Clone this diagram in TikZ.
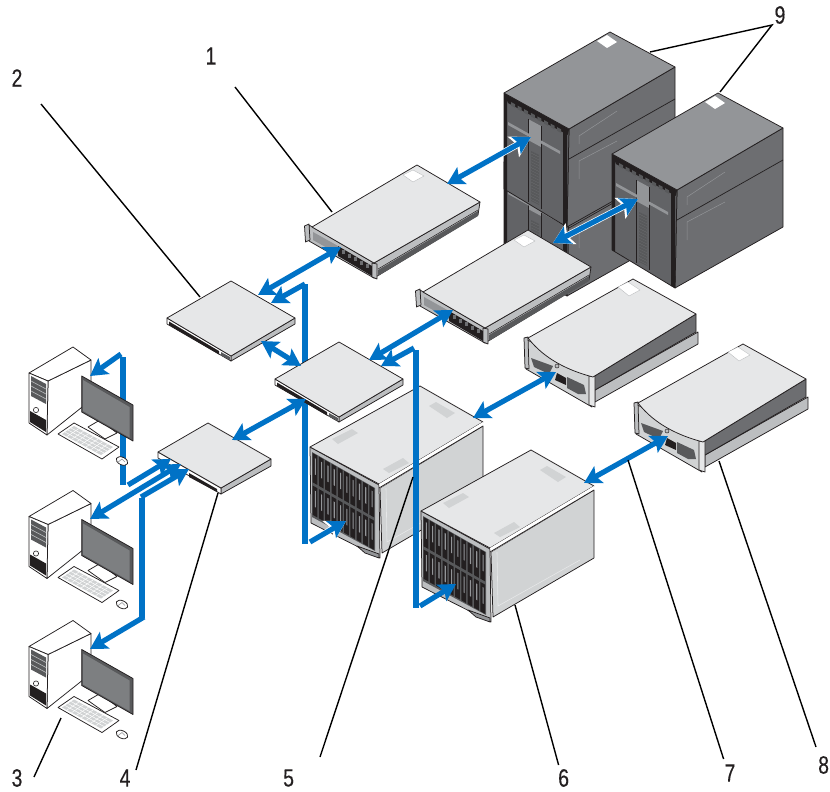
\documentclass[tikz,border=0pt]{standalone}
\usepackage{fontspec}
\usetikzlibrary{arrows.meta}
\newfontfamily\lblfont[FakeStretch=0.78,FakeBold=0.25]{Liberation Sans}
\definecolor{bluarrow}{HTML}{0072C6}
\definecolor{gA}{HTML}{E6E7E8}
\definecolor{gB}{HTML}{D1D3D4}
\definecolor{gC}{HTML}{BCBEC0}
\definecolor{gD}{HTML}{939598}
\definecolor{gE}{HTML}{6D6E71}
\definecolor{gF}{HTML}{58595B}
\definecolor{gG}{HTML}{231F20}
\tikzset{
  edge/.style={draw=gG,line width=0.75pt,line join=round},
  leader/.style={draw=black,line width=1.4pt},
  lab/.style={font=\lblfont\fontsize{25}{25}\selectfont,inner sep=0pt,text=gG},
  blu/.style={draw=bluarrow,line width=5.2pt},
  blutip/.style={blu,-{Stealth[length=17pt,width=19pt,inset=3.5pt]}},
  blutwo/.style={blu,{Stealth[length=17pt,width=19pt,inset=3.5pt]}-{Stealth[length=17pt,width=19pt,inset=3.5pt]}},
  halo/.style={draw=white,line width=6.6pt,-{Stealth[length=20pt,width=23pt,inset=4pt]}},
  halotwo/.style={draw=white,line width=6.6pt,{Stealth[length=20pt,width=23pt,inset=4pt]}-{Stealth[length=20pt,width=23pt,inset=4pt]}},
}
% 2U rack server, drawn at the place of item 1
\newcommand{\srvbox}[1]{\begin{scope}[shift={#1}]
  \fill[gC,edge] (374,263)--(480,202)--(478,215)--(374,278)--cycle;
  \fill[gF] (378,270)--(478,211)--(478,216)--(378,276)--cycle;
  \draw[gG,line width=.5pt] (378,269)--(478,210);
  \fill[gC,edge] (309,225)--(374,263)--(374,278)--(309,241)--cycle;
  \fill[gD] (313,232)--(338,246)--(338,254)--(313,240)--cycle;
  \fill[gG] (338,246)--(372,266)--(372,276)--(338,256)--cycle;
  \foreach \i in {0,...,4}{\fill[gE] ({342+6*\i},{250+3.5*\i}) rectangle ++(3,4);}
  \fill[gC,edge] (304.5,226)--(309,224)--(310,240)--(305.5,242)--cycle;
  \fill[gC,edge] (372,263)--(377,264)--(377,279)--(372,277)--cycle;
  \fill[gA,edge] (312,227)--(417,165)--(480,202)--(374,263)--cycle;
  \fill[white,draw=gC,line width=.4pt] (403,175)--(413,170)--(424,176)--(413,182)--cycle;
\end{scope}}
% flat switch, drawn at the place of item 2
\newcommand{\swbox}[1]{\begin{scope}[shift={#1}]
  \fill[gC,edge] (231,356)--(295,318)--(295,324)--(231,361)--cycle;
  \fill[white,edge] (167,318)--(231,356)--(231,361)--(167,324)--cycle;
  \fill[gG] (169,321.5)--(219,351)--(219,354.5)--(169,325)--cycle;
  \fill[gF] (221,352)--(230,357)--(230,360)--(221,355.5)--cycle;
  \fill[gA,edge] (167,318)--(231,281)--(295,318)--(231,356)--cycle;
\end{scope}}
% workstation, drawn at the place of the top one
\newcommand{\wsbox}[1]{\begin{scope}[shift={#1}]
  \fill[white,edge] (48,381)--(91,360)--(91,400)--(47,435)--cycle;
  \fill[white,edge] (29,373)--(73,347)--(91,360)--(48,381)--cycle;
  \fill[white,edge] (29,373)--(48,381)--(47,435)--(29,423)--cycle;
  \fill[gF] (31,376)--(46,384)--(46,404)--(31,396)--cycle;
  \foreach \i in {0,1,2}{\draw[gC,line width=.6pt] (31,{381+5*\i})--(46,{389+5*\i});}
  \fill[gG] (30,411)--(46,420)--(46,432)--(30,422)--cycle;
  \draw[gG,line width=.6pt] (36,410) circle (2.6);
  \fill[white,edge] (88,427)--(100,420)--(117,433)--(105,439)--cycle;
  \fill[gF,edge] (81.7,376)--(133,405)--(133,441)--(81.7,412)--cycle;
  \fill[gD!85!black] (83,380)--(129.5,407)--(129.5,437.5)--(83,411)--cycle;
  \fill[white,edge] (58,434)--(74,423)--(119,447)--(102,459)--cycle;
  \fill[gB] (62,434)--(74,426)--(113,447)--(101,455)--cycle;
  \foreach \i in {1,...,7}{\draw[white,line width=.5pt] ({62+4.8*\i},{434+2.6*\i})--({74+4.8*\i},{426+2.6*\i});}
  \foreach \i in {1,2,3}{\draw[white,line width=.5pt] ({62+3*\i},{434-2*\i})--({101+3*\i},{455-2*\i});}
  \draw[edge,fill=white,rotate around={-25:(122,461)}] (122,461) ellipse (6.2 and 3.8);
  \draw[gD,line width=.6pt] (117.5,462.5)--(122,459)--(125,462);
\end{scope}}
% blade enclosure, drawn at the place of item 6
\newcommand{\bladebox}[1]{\begin{scope}[shift={#1}]
  \fill[gB,edge] (491,552)--(594,490)--(594,558)--(493,617)--cycle;
  \draw[gA,line width=.6pt] (497,552)--(498,606)--(580,560);
  \fill[gC,edge] (421,511)--(490,549)--(491,622)--(422,587)--cycle;
  \fill[gF] (423,516)--(486,552)--(486,615)--(423,581)--cycle;
  \foreach \i in {0,...,9}{\foreach \r in {0,1}{
    \pgfmathsetmacro{\ta}{0.01+0.1*\i}
    \pgfmathsetmacro{\tb}{0.085+0.1*\i}
    \pgfmathsetmacro{\sa}{0.01+0.5*\r}
    \pgfmathsetmacro{\sb}{0.46+0.5*\r}
    \fill[gG] ({423+63*\ta},{516+36*\ta+65*\sa})--({423+63*\tb},{516+36*\tb+65*\sa})--({423+63*\tb},{516+36*\tb+65*\sb})--({423+63*\ta},{516+36*\ta+65*\sb})--cycle;
    \fill[gD] ({423+63*(\ta+.035)},{516+36*(\ta+.035)+65*(\sa+.06)})--({423+63*(\ta+.052)},{516+36*(\ta+.052)+65*(\sa+.06)})--({423+63*(\ta+.052)},{516+36*(\ta+.052)+65*(\sb-.14)})--({423+63*(\ta+.035)},{516+36*(\ta+.035)+65*(\sb-.14)})--cycle;
  }}
  \fill[gD,edge] (468,610)--(490,618)--(490,622)--(476,617)--cycle;
  \fill[gA,edge] (421,511)--(531,450)--(594,486)--(490,548)--cycle;
  \fill[white] (490,548)--(594,486)--(594,490)--(491,552)--cycle;
  \draw[edge] (490,552)--(594,490);
  \fill[gB] (443,503)--(463,493)--(469,497)--(449,508)--cycle;
  \fill[gB] (540,470)--(547,466)--(566,477)--(558,482)--cycle;
  \fill[gB] (494,533)--(514,522)--(520,527)--(500,537)--cycle;
\end{scope}}
% storage enclosure, drawn at the place of item 8
\newcommand{\storebox}[1]{\begin{scope}[shift={#1}]
  \fill[gC,edge] (705,455)--(808,397)--(808,409)--(705,467)--cycle;
  \fill[gE,edge] (703,442)--(806,379)--(806,397)--(705,455)--cycle;
  \fill[gB,edge] (636,404)--(702,441)--(702,472)--(636,434)--cycle;
  \fill[gF] (641,423)--(663,431)--(659,439)--(644,432)--cycle;
  \fill[gG] (667,438)--(676,443)--(676,450)--(665,445)--cycle;
  \fill[gF] (677,442)--(694,450)--(696,459)--(688,459)--(677,453)--cycle;
  \draw[gG,line width=.5pt,fill=gC] (667,431) circle (2);
  \fill[gC,edge] (634,403)--(638,402)--(639,434)--(635,433)--cycle;
  \fill[gA,edge] (699,441)--(705,441)--(705,472)--(699,470)--cycle;
  \fill[gA,edge] (638,403)--(743,344)--(806,379)--(703,442)..controls (680,436) and (655,425)..(638,403)--cycle;
  \fill[white,draw=gC,line width=.4pt] (728,352)--(738,347)--(750,355)--(739,361)--cycle;
\end{scope}}
% tape library, drawn at the place of the front one
\newcommand{\libbox}[1]{\begin{scope}[shift={#1}]
  \fill[gE,edge] (677,190)--(783,128)--(783,227)--(675,288)--cycle;
  \draw[gG,line width=.7pt] (677,220)--(783,160);
  \draw[gD,line width=.5pt] (687,205)--(687,197)--(725,172);
  \draw[gD,line width=.5pt] (687,240)--(687,222)--(725,202);
  \fill[gE!90!black,edge] (612,154)--(677,190)--(675,288)--(612,250)--cycle;
  \fill[gG] (612,154)--(677,190)--(676,196)--(616,164)--cycle;
  \foreach \i in {0,...,7}{\fill[gF] ({619+6.6*\i},{163+3.6*\i}) -- ++(4,2.2) -- ++(0,3.6) -- ++(-4,-2.2) -- cycle;}
  \fill[gG] (612,154)--(615,156)--(615,252)--(612,250)--cycle;
  \fill[gG] (671,191)--(675,193)--(675,288)--(671,286)--cycle;
  \fill[gD] (636,180)--(649,187)--(649,208)--(636,201)--cycle;
  \fill[gF] (639,212)--(647,216)--(647,266)--(639,262)--cycle;
  \foreach \i in {0,...,16}{\draw[gE,line width=.25pt] (639,{214+2.9*\i})--(647,{218+2.9*\i});}
  \draw[gG,line width=.5pt] (636,180)--(636,263) (649,187)--(649,270);
  \fill[gD] (616,183)--(668,212)--(668,215)--(616,186)--cycle;
  \fill[gD,edge] (612,154)--(718,93)--(783,128)--(677,190)--cycle;
  \fill[white] (705,102)--(715,96)--(725,103)--(715,109)--cycle;
\end{scope}}
\begin{document}
\begin{tikzpicture}[x=1pt,y=-1pt,line cap=butt]
\useasboundingbox (0,0) rectangle (830,792);
% ---- tape libraries
\libbox{(-108,8)}
\libbox{(-108,-61)}
\libbox{(0,0)}
% ---- servers
\srvbox{(0,0)}
\srvbox{(111,65)}
% ---- blade enclosures
\bladebox{(-111,-64)}
\bladebox{(0,0)}
% ---- storage
\storebox{(-110,-65)}
\storebox{(0,0)}
% ---- named connector ends
\coordinate (srvA) at (447,184);   \coordinate (libA) at (531,137);
\coordinate (srvB) at (553,243);   \coordinate (libB) at (638,199);
\coordinate (swTwoA) at (258,295); \coordinate (srvAf) at (341,247);
\coordinate (busAt) at (305,284);  \coordinate (swTwoB) at (271,303);
\coordinate (busAb) at (305,544);  \coordinate (busAc) at (310,542);
\coordinate (bladeA) at (346,521);
\coordinate (swTwoC) at (261,341); \coordinate (swMidA) at (301,366);
\coordinate (swMidB) at (369,360); \coordinate (srvBf) at (453,310);
\coordinate (busBt) at (416,350);  \coordinate (busBb) at (416,608);
\coordinate (busBu) at (414,348);  \coordinate (swMidC) at (381,366);
\coordinate (busBc) at (420,606);  \coordinate (bladeB) at (456,584);
\coordinate (swMidD) at (306,399); \coordinate (swFourA) at (232,440);
\coordinate (bladeC) at (473,418); \coordinate (storeA) at (556,372);
\coordinate (bladeD) at (584,483); \coordinate (storeB) at (668,436);
\coordinate (busCt) at (123,357);  \coordinate (busCb) at (123,485);
\coordinate (busCu) at (121,354);  \coordinate (wsA) at (90,376);
\coordinate (busCc) at (128,485);  \coordinate (swFourB) at (171,459);
\coordinate (wsB) at (90,519);     \coordinate (swFourC) at (181,464);
\coordinate (busDt) at (142,498);  \coordinate (busDb) at (142,618);
\coordinate (busDc) at (141,497);  \coordinate (swFourD) at (189,469);
\coordinate (busDu) at (144,617);  \coordinate (wsC) at (90,649);
% ---- blue busses that pass behind boxes
\draw[blu] (busAt)--(busAb);
\draw[blu] (busCt)--(busCb);
\draw[blu] (busDt)--(busDb);
\draw[blu] (busBt)--(busBb);
% ---- switches
\swbox{(0,0)}
\swbox{(108,61)}
\fill[gC,edge] (221,488)--(271,459)--(271,466)--(221,494)--cycle;
\fill[white,edge] (158,452)--(221,488)--(221,494)--(158,458)--cycle;
\fill[gG] (189,473)--(217,489)--(217,492)--(189,477)--cycle;
\fill[gA,edge] (158,452)--(208,423)--(271,459)--(221,488)--cycle;
% ---- workstations
\wsbox{(0,0)}
\wsbox{(0,143.5)}
\wsbox{(0,273.5)}
% ---- blue arrows
\draw[halotwo] (srvA)--(libA);
\draw[blutwo] (srvA)--(libA);
\draw[halotwo] (srvB)--(libB);
\draw[blutwo] (srvB)--(libB);
\draw[blutwo] (swTwoA)--(srvAf);
\draw[blutip] (busAt)--(swTwoB);
\draw[halo] (busAc)--(bladeA);
\draw[blutip] (busAc)--(bladeA);
\draw[blutwo] (swTwoC)--(swMidA);
\draw[blutwo] (swMidB)--(srvBf);
\draw[blutip] (busBu)--(swMidC);
\draw[blutip] (busBc)--(bladeB);
\draw[blutwo] (swMidD)--(swFourA);
\draw[blutwo] (bladeC)--(storeA);
\draw[blutwo] (bladeD)--(storeB);
\draw[blutip] (busCu)--(wsA);
\draw[blutip] (busCc)--(swFourB);
\draw[blutwo] (wsB)--(swFourC);
\draw[blutip] (busDc)--(swFourD);
\draw[blutip] (busDu)--(wsC);
% ---- labels and leaders
\node[lab] (n1) at (211,56) {1};
\node[lab] (n2) at (17,78) {2};
\node[lab] (n3) at (17,778) {3};
\node[lab] (n4) at (125,778) {4};
\node[lab] (n5) at (288.6,778) {5};
\node[lab] (n6) at (563.6,778) {6};
\node[lab] (n7) at (730,773) {7};
\node[lab] (n8) at (823.6,765) {8};
\node[lab] (n9) at (780,15) {9};
\coordinate (s1) at (235,87);  \coordinate (e1) at (332,212);
\coordinate (s2) at (41,104);  \coordinate (e2) at (200,297);
\coordinate (s3) at (34,777);  \coordinate (e3) at (61,718);
\coordinate (s4) at (136,770); \coordinate (e4) at (218,493);
\coordinate (s5) at (320,757); \coordinate (e5) at (413,477);
\coordinate (s6) at (558.6,765); \coordinate (e6) at (515,605);
\coordinate (s7) at (723.6,759); \coordinate (e7) at (628,460);
\coordinate (s8) at (816,747); \coordinate (e8) at (719,461);
\coordinate (s9) at (772,25);  \coordinate (e9a) at (650,52); \coordinate (e9b) at (720,92);
\draw[leader] (s1)--(e1);
\draw[leader] (s2)--(e2);
\draw[leader] (s3)--(e3);
\draw[leader] (s4)--(e4);
\draw[leader] (s5)--(e5);
\draw[leader] (s6)--(e6);
\draw[leader] (s7)--(e7);
\draw[leader] (s8)--(e8);
\draw[leader] (e9a)--(s9)--(e9b);
\end{tikzpicture}
\end{document}
